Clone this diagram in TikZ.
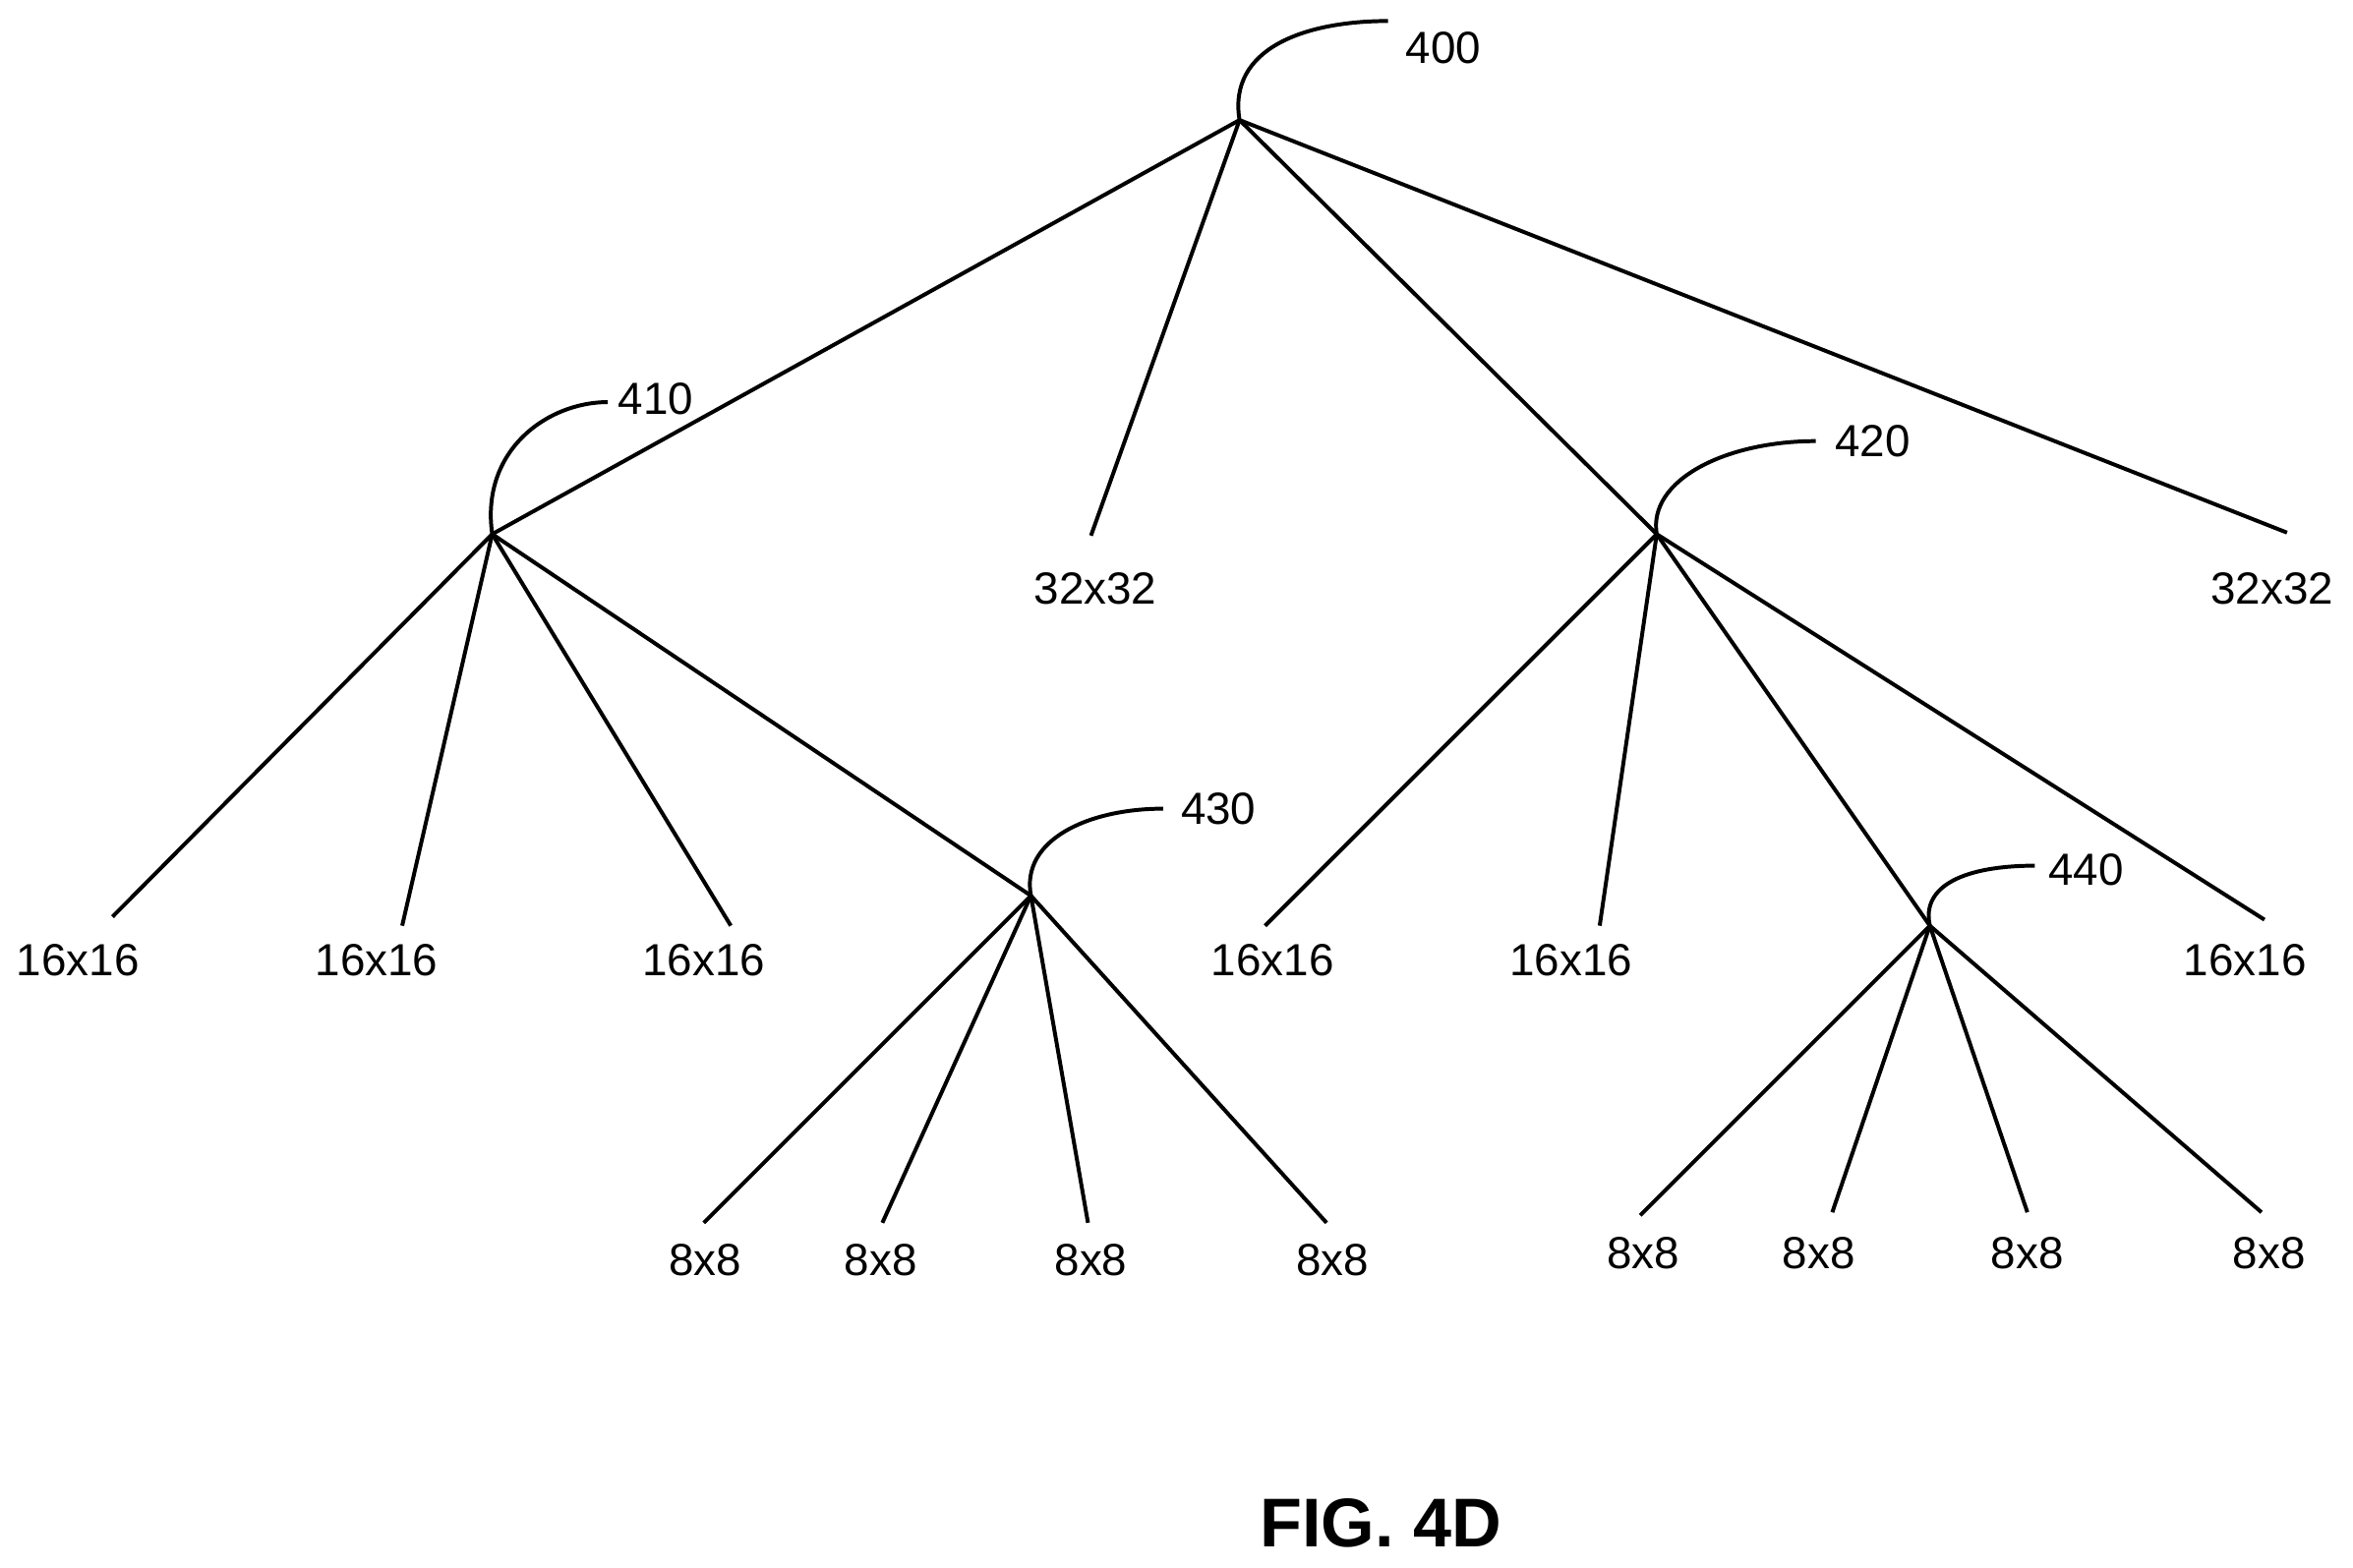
\documentclass[tikz,border=0pt]{standalone}
\usepackage{fontspec}
\setmainfont{Liberation Sans}
\begin{document}
\begin{tikzpicture}[x=0.5pt,y=-0.5pt,
  edge/.style={line width=1.3pt},
  lbl/.style={font=\fontsize{15}{18}\selectfont, inner sep=0pt},
  ref/.style={font=\fontsize{15}{18}\selectfont, inner sep=0pt}]
\useasboundingbox (0,0) rectangle (1568,1045);
\fill[white] (0,0) rectangle (1568,1045);
% branch points
\coordinate (n400) at (826,80);
\coordinate (n410) at (328,356);
\coordinate (n420) at (1104,356);
\coordinate (n430) at (687,597);
\coordinate (n440) at (1286,617);
% hooks
\coordinate (h400) at (925,14);
\coordinate (h410) at (405,268);
\coordinate (h420) at (1210,294);
\coordinate (h430) at (775,539);
\coordinate (h440) at (1356,577);
\draw[edge] (n400) .. controls (818,32) and (870,14) .. (h400);
\draw[edge] (n410) .. controls (320,300) and (365,268) .. (h410);
\draw[edge] (n420) .. controls (1098,320) and (1150,294) .. (h420);
\draw[edge] (n430) .. controls (680,560) and (725,539) .. (h430);
\draw[edge] (n440) .. controls (1280,590) and (1310,577) .. (h440);
\node[ref] (r400) at (962,32) {400};
\node[ref] (r410) at (437,266) {410};
\node[ref] (r420) at (1248,294) {420};
\node[ref] (r430) at (812,539) {430};
\node[ref] (r440) at (1390,580) {440};
% leaf ends
\coordinate (a1) at (727,357); \coordinate (a2) at (1524,355);
\coordinate (b1) at (75,611); \coordinate (b2) at (268,617); \coordinate (b3) at (487,617);
\coordinate (c1) at (843,617); \coordinate (c2) at (1066,617); \coordinate (c3) at (1509,613);
\coordinate (d1) at (469,815); \coordinate (d2) at (588,815); \coordinate (d3) at (725,815); \coordinate (d4) at (884,815);
\coordinate (e1) at (1093,810); \coordinate (e2) at (1221,808); \coordinate (e3) at (1351,808); \coordinate (e4) at (1507,808);
\draw[edge] (n400) -- (n410); \draw[edge] (n400) -- (a1); \draw[edge] (n400) -- (n420); \draw[edge] (n400) -- (a2);
\draw[edge] (n410) -- (b1); \draw[edge] (n410) -- (b2); \draw[edge] (n410) -- (b3); \draw[edge] (n410) -- (n430);
\draw[edge] (n420) -- (c1); \draw[edge] (n420) -- (c2); \draw[edge] (n420) -- (n440); \draw[edge] (n420) -- (c3);
\foreach \d in {d1,d2,d3,d4} \draw[edge] (n430) -- (\d);
\foreach \e in {e1,e2,e3,e4} \draw[edge] (n440) -- (\e);
% labels
\node[lbl] (la1) at (730,392) {32x32};
\node[lbl] (la2) at (1514,392) {32x32};
\node[lbl] (lb1) at (52,640) {16x16};
\node[lbl] (lb2) at (251,640) {16x16};
\node[lbl] (lb3) at (469,640) {16x16};
\node[lbl] (lc1) at (848,640) {16x16};
\node[lbl] (lc2) at (1047,640) {16x16};
\node[lbl] (lc3) at (1496,640) {16x16};
\node[lbl] (ld1) at (470,840) {8x8};
\node[lbl] (ld2) at (587,840) {8x8};
\node[lbl] (ld3) at (727,840) {8x8};
\node[lbl] (ld4) at (888,840) {8x8};
\node[lbl] (le1) at (1095,835) {8x8};
\node[lbl] (le2) at (1212,835) {8x8};
\node[lbl] (le3) at (1351,835) {8x8};
\node[lbl] (le4) at (1512,835) {8x8};
\node[font=\fontsize{23}{27}\selectfont\bfseries, inner sep=0pt] (fig) at (920,1015) {FIG. 4D};
\end{tikzpicture}
\end{document}
